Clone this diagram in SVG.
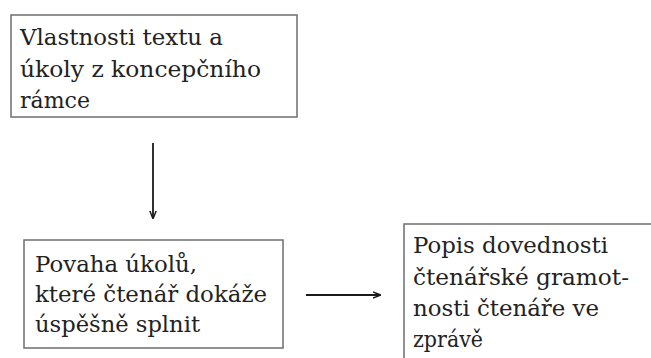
<svg xmlns="http://www.w3.org/2000/svg" width="651" height="358" viewBox="0 0 651 358">
<defs>
<style>
.box{fill:#fff;stroke:#6e6e6e;stroke-width:1.5}
.t{font-family:"DejaVu Serif","Liberation Serif",serif;font-size:23px;fill:#222}
.c{stroke:#1a1a1a;stroke-width:1.8;fill:none}
</style>
<marker id="ah" viewBox="0 0 10 10" refX="9" refY="5" markerWidth="8" markerHeight="8" markerUnits="userSpaceOnUse" orient="auto">
<path d="M0,1 L10,5 L0,9" fill="none" stroke="#1a1a1a" stroke-width="1.8"/>
</marker>
</defs>
<rect width="651" height="358" fill="#fff"/>
<g id="n1">
<rect class="box" x="11" y="15" width="286" height="102"/>
<text class="t" x="20" y="45" textLength="203" lengthAdjust="spacingAndGlyphs">Vlastnosti textu a</text>
<text class="t" x="20" y="77" textLength="241" lengthAdjust="spacingAndGlyphs">úkoly z koncepčního</text>
<text class="t" x="20" y="108" textLength="70" lengthAdjust="spacingAndGlyphs">rámce</text>
</g>
<g id="n2">
<rect class="box" x="24" y="240" width="259" height="108"/>
<text class="t" x="35" y="272" textLength="162" lengthAdjust="spacingAndGlyphs">Povaha úkolů,</text>
<text class="t" x="35" y="302" textLength="232" lengthAdjust="spacingAndGlyphs">které čtenář dokáže</text>
<text class="t" x="35" y="332" textLength="165" lengthAdjust="spacingAndGlyphs">úspěšně splnit</text>
</g>
<g id="n3">
<rect class="box" x="404" y="224" width="260" height="150"/>
<text class="t" x="413" y="253" textLength="195" lengthAdjust="spacingAndGlyphs">Popis dovednosti</text>
<text class="t" x="413" y="285" textLength="216" lengthAdjust="spacingAndGlyphs">čtenářské gramot-</text>
<text class="t" x="413" y="316" textLength="186" lengthAdjust="spacingAndGlyphs">nosti čtenáře ve</text>
<text class="t" x="413" y="347" textLength="70" lengthAdjust="spacingAndGlyphs">zprávě</text>
</g>
<g id="connectors">
<line class="c" x1="153" y1="143" x2="153" y2="218" marker-end="url(#ah)"/>
<line class="c" x1="306" y1="295" x2="380" y2="295" marker-end="url(#ah)"/>
</g>
</svg>
